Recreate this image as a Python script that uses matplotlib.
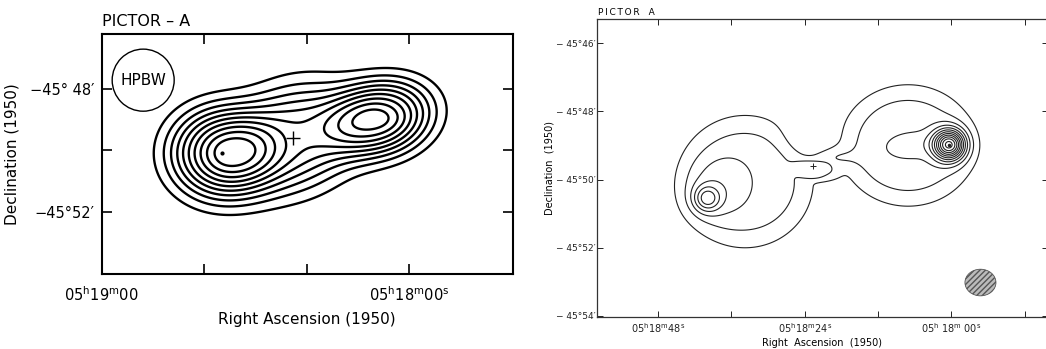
import numpy as np
import matplotlib
matplotlib.use("Agg")
import matplotlib.pyplot as plt
from matplotlib.patches import Ellipse

plt.rcParams["font.family"] = ["DejaVu Sans"]
plt.rcParams["mathtext.fontset"] = "dejavusans"

# arcmin of sky per second of RA at dec -45.8
RA_TO_ARCMIN = 15 * np.cos(np.radians(45.8)) / 60

# --- low resolution map (left): source components ---
# ra in seconds after 05h18m, dec in arcmin (value = -45d minus arcmin)
# west lobe, east lobe, bridge, west core, east core
LO_RA = [36.6, 5.7, 22.6, 36.6, 5.7]
LO_DEC = [-50.09, -48.95, -49.6, -50.09, -48.95]
LO_AMP = [8.1, 7.95, 5.8, 1.0, 0.9]
LO_MAJ = [1.3, 1.3, 1.7, 0.45, 0.5]
LO_MIN = [1.1, 0.9, 1.25, 0.4, 0.3]
LO_PA = [0, 12, 20, 0, 0]
LO_SHAPE = [2.5, 2.5, 2.5, 2, 2]
LO_LEVELS = [1, 2, 3, 4, 5, 6, 7, 8, 9, 10]

# --- high resolution map (right) ---
# left body, left inner, left hotspot, finger, notch, neck, right body, tail, right hotspot
HI_RA = [33.74, 38.15, 40.0, 22.13, 23.9, 19.6, 7.1, 6.4, 0.35]
HI_DEC = [-50.06, -50.23, -50.56, -49.74, -48.74, -49.36, -49.0, -49.0, -48.98]
HI_AMP = [2.6, 1.2, 3.6, 1.5, -1.0, 1.3, 2.7, 0.75, 10.0]
HI_MAJ = [1.65, 0.75, 0.26, 0.55, 0.45, 0.42, 1.64, 0.6, 0.31]
HI_MIN = [1.65, 0.65, 0.26, 0.25, 0.4, 0.22, 1.5, 0.3, 0.31]
HI_PA = [0, 40, 0, -10, 0, 0, 0, 5, 0]
HI_SHAPE = [4, 2.5, 2, 4, 2, 2, 4, 2.5, 2]
HI_LEVELS = [1, 2, 3, 4, 5, 6, 7, 8, 9, 10, 11, 12]

CORE_RA, CORE_DEC = 22.6, -49.6


def brightness(ra, dec, comp_ra, comp_dec, amp, maj, mnr, pa, shape):
    total = np.zeros_like(ra)
    for r0, d0, a, sa, sb, th, p in zip(comp_ra, comp_dec, amp, maj, mnr, pa, shape):
        dx = (r0 - ra) * RA_TO_ARCMIN
        dy = dec - d0
        t = np.radians(th)
        u = dx * np.cos(t) + dy * np.sin(t)
        v = -dx * np.sin(t) + dy * np.cos(t)
        rr = np.sqrt((u / sa) ** 2 + (v / sb) ** 2)
        total += a * np.exp(-0.5 * rr ** p)
    return total


fig = plt.figure(figsize=(10.46, 3.49), dpi=100)

# ---------------- left panel ----------------
ax1 = fig.add_axes([0.0972, 0.214, 0.3929, 0.6877])
ra = np.linspace(62, -22, 500)
dec = np.linspace(-54.5, -45.8, 400)
RA, DEC = np.meshgrid(ra, dec)
Z = brightness(RA, DEC, LO_RA, LO_DEC, LO_AMP, LO_MAJ, LO_MIN, LO_PA, LO_SHAPE)
ax1.contour(RA, DEC, Z, levels=LO_LEVELS, colors="black", linewidths=1.7)
ax1.plot(LO_RA[0], LO_DEC[0], marker="o", ms=2, color="black")
ax1.plot(CORE_RA, CORE_DEC, marker="+", ms=10, mew=1.0, color="black")
ax1.add_patch(Ellipse((51.9, -47.70), 12.1, 2.03, fill=False, lw=1.0, ec="black"))
ax1.text(51.9, -47.70, "HPBW", ha="center", va="center", fontsize=11)
ax1.set_xlim(60, -20.2)
ax1.set_ylim(-54.05, -46.2)
ax1.set_xticks([60, 40, 20, 0])
ax1.set_xticklabels([r"05$^{\rm h}$19$^{\rm m}$00", "", "",
                     r"05$^{\rm h}$18$^{\rm m}$00$^{\rm s}$"], fontsize=10.5)
ax1.set_yticks([-48, -50, -52])
ax1.set_yticklabels(["\u221245\u00b0 48\u2032", "", "\u221245\u00b052\u2032"], fontsize=10.5)
ax1.tick_params(direction="in", top=True, right=True, length=7, width=1.2)
ax1.tick_params(axis="x", pad=8)
ax1.tick_params(axis="y", pad=5)
for s in ax1.spines.values():
    s.set_linewidth(1.5)
ax1.set_xlabel("Right Ascension (1950)", fontsize=11, labelpad=6)
ax1.set_ylabel("Declination (1950)", fontsize=11, labelpad=8)
fig.text(0.0972, 0.938, "PICTOR \u2013 A", fontsize=11.5, ha="left", va="center")

# ---------------- right panel ----------------
ax2 = fig.add_axes([0.5705, 0.0908, 0.4315, 0.8539])
ra = np.linspace(60, -18, 700)
dec = np.linspace(-54.5, -45.0, 550)
RA, DEC = np.meshgrid(ra, dec)
Z = brightness(RA, DEC, HI_RA, HI_DEC, HI_AMP, HI_MAJ, HI_MIN, HI_PA, HI_SHAPE)
ax2.contour(RA, DEC, Z, levels=HI_LEVELS, colors="#222222", linewidths=0.8)
ax2.plot(HI_RA[-1], HI_DEC[-1], marker="o", ms=1.5, color="#222222")
ax2.plot(CORE_RA, CORE_DEC, marker="+", ms=5, mew=0.7, color="#222222")
ax2.add_patch(Ellipse((-4.74, -53.02), 5.07, 0.78, fc="#bbbbbb", ec="#555555",
                      hatch="//////", lw=0.6))
ax2.set_xlim(58, -15.8)
ax2.set_ylim(-54.04, -45.30)
ax2.set_xticks([48, 36, 24, 12, 0, -12])
ax2.set_xticklabels([r"05$^{\rm h}$18$^{\rm m}$48$^{\rm s}$", "",
                     r"05$^{\rm h}$18$^{\rm m}$24$^{\rm s}$", "",
                     r"05$^{\rm h}$ 18$^{\rm m}$ 00$^{\rm s}$", ""], fontsize=7)
ax2.set_yticks([-46, -48, -50, -52, -54])
ax2.set_yticklabels(["\u2212 45\u00b0%d\u2032" % d for d in (46, 48, 50, 52, 54)], fontsize=6.5)
ax2.tick_params(direction="in", top=True, right=True, length=4, width=0.7, colors="#222222")
ax2.tick_params(axis="x", pad=3)
ax2.tick_params(axis="y", pad=1)
for s in ax2.spines.values():
    s.set_linewidth(0.9)
    s.set_color("#333333")
ax2.set_xlabel("Right  Ascension  (1950)", fontsize=7, labelpad=2)
ax2.set_ylabel("Declination  (1950)", fontsize=7, labelpad=1)
fig.text(0.572, 0.963, "P\u2009I\u2009C\u2009T\u2009O\u2009R\u2002\u2002A", fontsize=6.5,
         ha="left", va="center")

fig.savefig("out.png", dpi=100)
